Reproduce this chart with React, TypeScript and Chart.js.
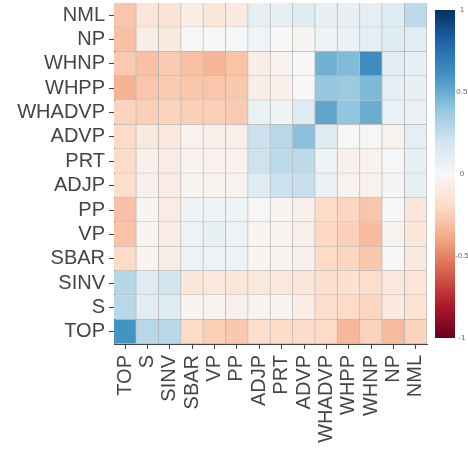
import React, { useEffect, useRef } from 'react';
import { Chart, registerables } from 'chart.js';

Chart.register(...registerables);

const rowLabels = ['NML', 'NP', 'WHNP', 'WHPP', 'WHADVP', 'ADVP', 'PRT', 'ADJP', 'PP', 'VP', 'SBAR', 'SINV', 'S', 'TOP'];
const colLabels = ['TOP', 'S', 'SINV', 'SBAR', 'VP', 'PP', 'ADJP', 'PRT', 'ADVP', 'WHADVP', 'WHPP', 'WHNP', 'NP', 'NML'];

// correlation values, one array per row (columns follow colLabels)
const rowNML = [-0.28, -0.13, -0.14, -0.07, -0.12, -0.1, 0.09, 0.09, 0.12, 0.08, 0.08, 0.1, 0.12, 0.26];
const rowNP = [-0.3, -0.07, -0.1, 0.0, 0.0, 0.01, 0.03, 0.0, -0.02, 0.05, 0.07, 0.1, 0.12, 0.11];
const rowWHNP = [-0.26, -0.3, -0.26, -0.3, -0.34, -0.29, -0.07, -0.04, 0.0, 0.48, 0.44, 0.63, 0.11, 0.09];
const rowWHPP = [-0.35, -0.28, -0.26, -0.28, -0.28, -0.27, -0.07, -0.05, 0.0, 0.38, 0.37, 0.45, 0.09, 0.08];
const rowWHADVP = [-0.23, -0.25, -0.23, -0.25, -0.25, -0.26, 0.07, 0.05, 0.13, 0.53, 0.4, 0.5, 0.07, 0.07];
const rowADVP = [-0.2, -0.1, -0.11, -0.04, -0.06, -0.06, 0.22, 0.28, 0.42, 0.13, -0.01, -0.01, -0.04, 0.1];
const rowPRT = [-0.19, -0.05, -0.08, -0.03, -0.04, -0.04, 0.21, 0.27, 0.27, 0.05, -0.05, -0.04, 0.01, 0.09];
const rowADJP = [-0.18, -0.05, -0.08, -0.02, -0.03, -0.03, 0.12, 0.22, 0.23, 0.07, -0.04, -0.04, 0.02, 0.09];
const rowPP = [-0.3, -0.02, -0.08, 0.05, 0.05, 0.05, -0.01, -0.02, -0.05, -0.2, -0.22, -0.28, 0.0, -0.12];
const rowVP = [-0.29, -0.02, -0.08, 0.06, 0.08, 0.06, -0.02, -0.03, -0.06, -0.21, -0.24, -0.32, -0.03, -0.12];
const rowSBAR = [-0.2, -0.02, -0.08, 0.06, 0.06, 0.06, -0.02, -0.03, -0.05, -0.2, -0.22, -0.27, 0.0, -0.11];
const rowSINV = [0.29, 0.13, 0.19, -0.12, -0.11, -0.12, -0.11, -0.11, -0.12, -0.16, -0.16, -0.18, -0.11, -0.13];
const rowS = [0.28, 0.11, 0.13, -0.02, -0.03, -0.05, -0.03, -0.03, -0.07, -0.18, -0.2, -0.22, -0.09, -0.15];
const rowTOP = [0.6, 0.28, 0.28, -0.2, -0.25, -0.27, -0.18, -0.19, -0.19, -0.2, -0.33, -0.23, -0.32, -0.23];

const matrix = [rowNML, rowNP, rowWHNP, rowWHPP, rowWHADVP, rowADVP, rowPRT, rowADJP, rowPP, rowVP, rowSBAR, rowSINV, rowS, rowTOP];

const colorbarTicks = [-1, -0.5, 0, 0.5, 1];
const colorbarTickLabels = ['-1', '-0.5', '0', '0.5', '1'];

const RDBU = ['#67001f', '#b2182b', '#d6604d', '#f4a582', '#fddbc7', '#f7f7f7', '#d1e5f0', '#92c5de', '#4393c3', '#2166ac', '#053061'];

function hexToRgb(h: string) {
  return [parseInt(h.slice(1, 3), 16), parseInt(h.slice(3, 5), 16), parseInt(h.slice(5, 7), 16)];
}

function rdbu(v: number) {
  const t = Math.max(0, Math.min(1, (v + 1) / 2)) * 10;
  const i = Math.min(9, Math.floor(t));
  const f = t - i;
  const a = hexToRgb(RDBU[i]);
  const b = hexToRgb(RDBU[i + 1]);
  const c = a.map((x, k) => Math.round(x + (b[k] - x) * f));
  return `rgb(${c[0]},${c[1]},${c[2]})`;
}

const FONT = "'Liberation Sans', Arial, Helvetica, sans-serif";

export default function App() {
  const mainRef = useRef<HTMLCanvasElement>(null);
  const cbRef = useRef<HTMLCanvasElement>(null);

  useEffect(() => {
    const datasets = colLabels.map((c, j) => ({
      label: c,
      data: rowLabels.map(() => 1),
      backgroundColor: matrix.map((r) => rdbu(r[j])),
      borderColor: 'rgba(120,120,120,0.5)',
      borderWidth: { top: 0, left: 0, right: 1, bottom: 1 },
      borderSkipped: false,
      barPercentage: 1,
      categoryPercentage: 1,
      xAxisID: 'x',
      yAxisID: 'y',
    }));

    const main = new Chart(mainRef.current!, {
      type: 'bar',
      data: { labels: rowLabels, datasets: datasets as any },
      options: {
        indexAxis: 'y',
        responsive: false,
        animation: false,
        layout: { padding: { top: 3, right: 41, left: 0, bottom: 0 } },
        plugins: { legend: { display: false }, tooltip: { enabled: false } },
        scales: {
          x: { type: 'linear', display: false, min: 0, max: 14, stacked: true },
          x2: {
            type: 'category',
            axis: 'x',
            position: 'bottom',
            labels: colLabels,
            offset: true,
            grid: { offset: false, drawOnChartArea: false, tickLength: 5, color: '#444' },
            border: { display: true, color: '#444' },
            ticks: { font: { family: FONT, size: 20 }, color: '#444', maxRotation: 90, minRotation: 90, padding: 6, autoSkip: false },
            afterFit: (s: any) => { s.height = 106; s.paddingLeft = 0; s.paddingRight = 0; },
          } as any,
          y: {
            type: 'category',
            stacked: true,
            offset: true,
            grid: { offset: false, drawOnChartArea: false, tickLength: 5, color: '#444' },
            border: { display: true, color: '#444' },
            ticks: { font: { family: FONT, size: 20 }, color: '#444', padding: 4, autoSkip: false },
            afterFit: (s: any) => { s.width = 114; s.paddingTop = 0; s.paddingBottom = 0; },
          } as any,
        },
      },
    });

    const cb = new Chart(cbRef.current!, {
      type: 'bar',
      data: {
        labels: [''],
        datasets: [{
          data: [[colorbarTicks[0], colorbarTicks[colorbarTicks.length - 1]]] as any,
          backgroundColor: (ctx: any) => {
            const area = ctx.chart.chartArea;
            if (!area) return '#ffffff';
            const g = ctx.chart.ctx.createLinearGradient(0, area.bottom, 0, area.top);
            RDBU.forEach((c, i) => g.addColorStop(i / 10, c));
            return g;
          },
          borderWidth: 0,
          barPercentage: 1,
          categoryPercentage: 1,
        }],
      },
      options: {
        responsive: false,
        animation: false,
        layout: { padding: { left: 5, top: 10, bottom: 112, right: 0 } },
        plugins: { legend: { display: false }, tooltip: { enabled: false } },
        scales: {
          x: { display: false },
          y: {
            position: 'right',
            min: -1,
            max: 1,
            afterBuildTicks: (s: any) => { s.ticks = colorbarTicks.map((v) => ({ value: v })); },
            grid: { display: false, drawTicks: false },
            border: { display: false },
            ticks: {
              font: { family: FONT, size: 8 },
              color: '#666',
              padding: 0,
              crossAlign: 'center',
              callback: (_v: any, i: number) => colorbarTickLabels[i],
            },
            afterFit: (s: any) => { s.width = 13; s.paddingTop = 0; s.paddingBottom = 0; },
          } as any,
        },
      },
    });

    return () => { main.destroy(); cb.destroy(); };
  }, []);

  return (
    <div style={{ position: 'fixed', left: 0, top: 0, width: 468, height: 450, background: '#fff' }}>
      <canvas ref={mainRef} width={468} height={450} style={{ position: 'absolute', left: 0, top: 0 }} />
      <canvas ref={cbRef} width={38} height={450} style={{ position: 'absolute', left: 430, top: 0 }} />
    </div>
  );
}
